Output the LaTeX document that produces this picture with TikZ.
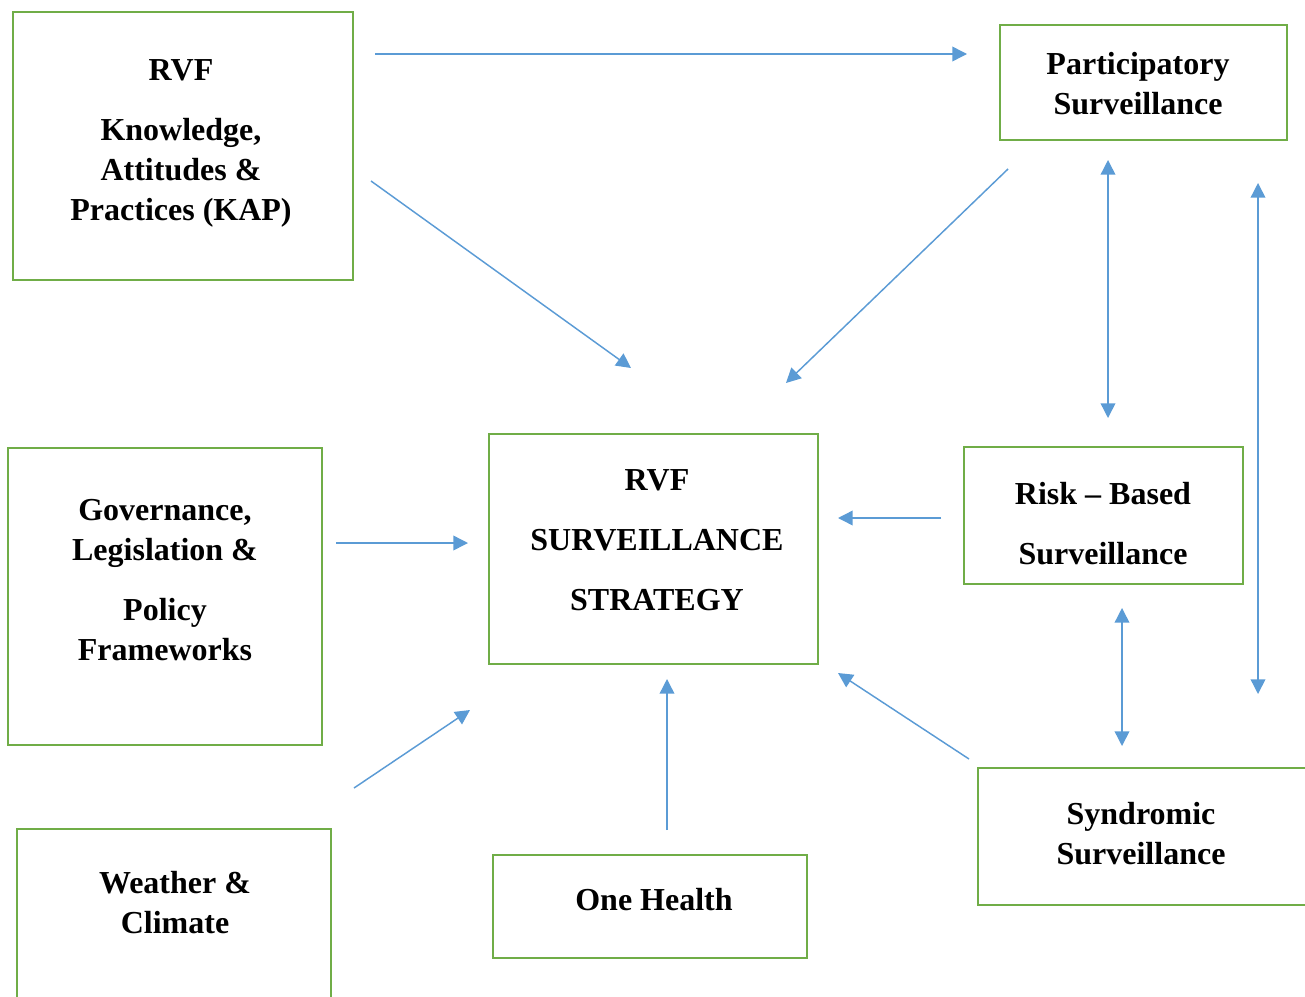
\documentclass[tikz,border=0pt]{standalone}
\usepackage{fontspec}
\setmainfont{Liberation Serif}
\usepackage{xcolor}
\usepackage{tikz}
\usetikzlibrary{arrows.meta}

\definecolor{boxgreen}{HTML}{70AD47}
\definecolor{arrowblue}{HTML}{5B9BD5}

\tikzset{
    framebox/.style={draw=boxgreen, line width=1.9pt, rectangle, inner sep=0pt},
    boxtext/.style={align=center, font=\bfseries\fontsize{24}{30}\selectfont, inner sep=0pt},
    link/.style={draw=arrowblue, line width=1.1pt, -{Triangle[length=11pt, width=11pt]}},
    twoway/.style={draw=arrowblue, line width=1.1pt, {Triangle[length=11pt, width=11pt]}-{Triangle[length=11pt, width=11pt]}}
}

\begin{document}
\begin{tikzpicture}[x=0.75pt, y=-0.75pt]
        \useasboundingbox (0, 0) rectangle (1305, 996);
        \clip (0, 0) rectangle (1305, 996);

        % Boxes
        \node[framebox, minimum width=255pt, minimum height=201pt] (kap) at (183, 146) {};
        \node[boxtext] (kaptext) at (181, 143) {RVF\\[15pt]Knowledge,\\Attitudes \&\\Practices (KAP)};

        \node[framebox, minimum width=215.25pt, minimum height=86.25pt] (part) at (1143.5, 82.5) {};
        \node[boxtext] (parttext) at (1138, 84) {Participatory\\Surveillance};

        \node[framebox, minimum width=235.5pt, minimum height=222.75pt] (gov) at (165, 596.5) {};
        \node[boxtext] (govtext) at (165, 580) {Governance,\\Legislation \&\\[15pt]Policy\\Frameworks};

        \node[framebox, minimum width=246.75pt, minimum height=172.5pt] (strat) at (653.5, 549) {};
        \node[boxtext] (strattext) at (657, 540) {RVF\\[15pt]SURVEILLANCE\\[15pt]STRATEGY};

        \node[framebox, minimum width=209.25pt, minimum height=102.75pt] (risk) at (1103.5, 515.5) {};
        \node[boxtext] (risktext) at (1103, 524) {Risk -- Based\\[15pt]Surveillance};

        \node[framebox, minimum width=235.5pt, minimum height=150pt] (weather) at (174, 929) {};
        \node[boxtext] (weathertext) at (175, 903) {Weather \&\\Climate};

        \node[framebox, minimum width=235.5pt, minimum height=77.25pt] (health) at (650, 906.5) {};
        \node[boxtext] (healthtext) at (654, 900) {One Health};

        \node[framebox, minimum width=270pt, minimum height=102.75pt] (synd) at (1158, 836.5) {};
        \node[boxtext] (syndtext) at (1141, 834) {Syndromic\\Surveillance};

        % Arrow ends
        \coordinate (a1) at (375, 54);   \coordinate (b1) at (967, 54);
        \coordinate (a2) at (371, 181);  \coordinate (b2) at (631, 368);
        \coordinate (a3) at (1008, 169); \coordinate (b3) at (786, 383);
        \coordinate (a4) at (1108, 160); \coordinate (b4) at (1108, 418);
        \coordinate (a5) at (1258, 183); \coordinate (b5) at (1258, 694);
        \coordinate (a6) at (336, 543);  \coordinate (b6) at (468, 543);
        \coordinate (a7) at (941, 518);  \coordinate (b7) at (838, 518);
        \coordinate (a8) at (1122, 608); \coordinate (b8) at (1122, 746);
        \coordinate (a9) at (354, 788);  \coordinate (b9) at (470, 710);
        \coordinate (a10) at (667, 830); \coordinate (b10) at (667, 679);
        \coordinate (a11) at (969, 759); \coordinate (b11) at (838, 673);

        % Arrows
        \draw[link] (a1) -- (b1);
        \draw[link] (a2) -- (b2);
        \draw[link] (a3) -- (b3);
        \draw[twoway] (a4) -- (b4);
        \draw[twoway] (a5) -- (b5);
        \draw[link] (a6) -- (b6);
        \draw[link] (a7) -- (b7);
        \draw[twoway] (a8) -- (b8);
        \draw[link] (a9) -- (b9);
        \draw[link] (a10) -- (b10);
        \draw[link] (a11) -- (b11);
\end{tikzpicture}
\end{document}
